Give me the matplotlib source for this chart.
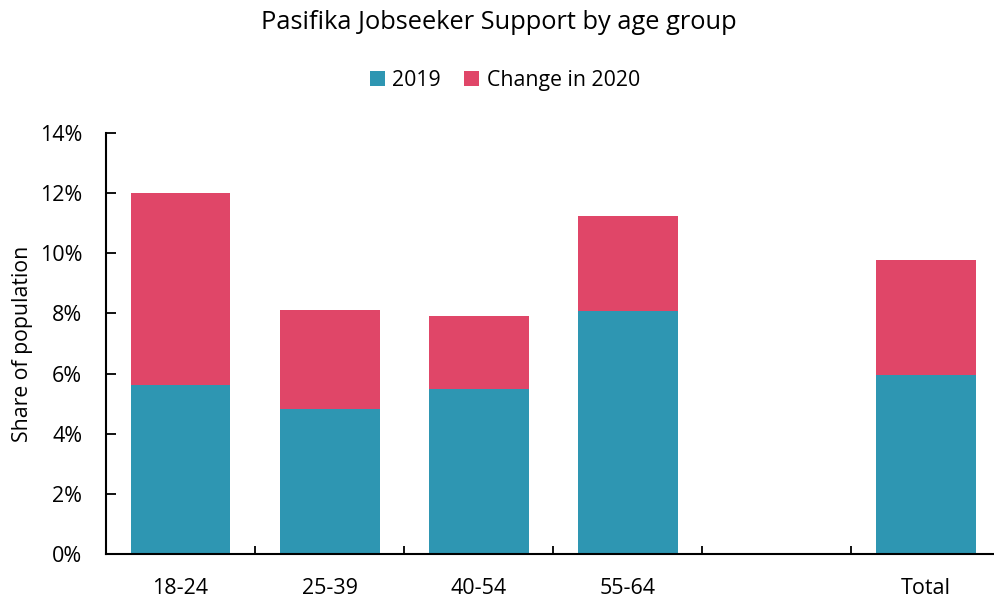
import matplotlib
matplotlib.use('Agg')
import matplotlib.pyplot as plt
import numpy as np
from matplotlib.ticker import FuncFormatter

plt.rcParams['font.family'] = ['Open Sans', 'DejaVu Sans']

categories = ['18-24', '25-39', '40-54', '55-64', '', 'Total']
base_2019 = [5.62, 4.83, 5.49, 8.08, np.nan, 5.95]
change_2020 = [6.38, 3.30, 2.41, 3.17, np.nan, 3.84]

teal = '#2e96b2'
red = '#e04668'

fig = plt.figure(figsize=(9.94, 5.98), dpi=100)
ax = fig.add_axes([0.1066, 0.0736, 0.9, 0.704])

x = np.arange(len(categories))
ax.bar(x, base_2019, width=0.67, color=teal, label='2019')
ax.bar(x, change_2020, width=0.67, bottom=base_2019, color=red, label='Change in 2020')

ax.set_xlim(-0.5, len(categories) - 0.5)
ax.set_ylim(0, 14)
ax.set_yticks(np.arange(0, 15, 2))
ax.yaxis.set_major_formatter(FuncFormatter(lambda v, p: f'{v:.0f}%'))
ax.set_xticks(x)
ax.set_xticklabels(categories)
ax.tick_params(axis='x', length=0, labelsize=15.5, pad=17)
ax.set_xticks(np.arange(0.5, len(categories) - 0.5), minor=True)
ax.tick_params(axis='x', which='minor', direction='in', length=6, width=1.3)
ax.tick_params(axis='y', direction='in', length=7, width=1.3, labelsize=15.5, pad=17)

for s in ['top', 'right']:
    ax.spines[s].set_visible(False)
for s in ['left', 'bottom']:
    ax.spines[s].set_linewidth(1.5)

ax.set_ylabel('Share of population', fontsize=15.3, labelpad=5)

fig.text(0.502, 0.963, 'Pasifika Jobseeker Support by age group', ha='center', va='center', fontsize=18.3)
fig.legend(loc='center', bbox_to_anchor=(0.508, 0.866), ncol=2, frameon=False, fontsize=15.3,
           handlelength=0.7, handleheight=0.7, handletextpad=0.35, columnspacing=1.1)

fig.savefig('out.png', dpi=100)
